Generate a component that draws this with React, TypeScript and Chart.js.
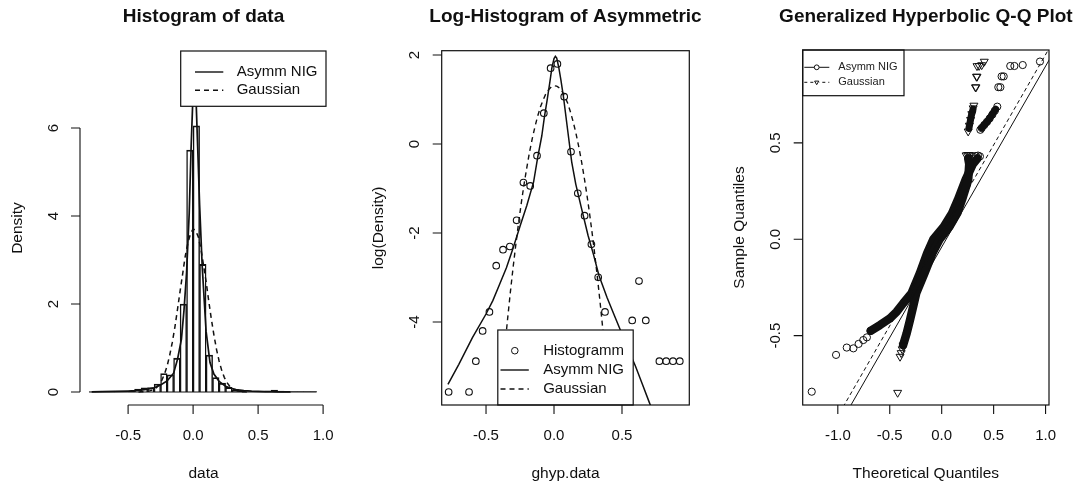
import React, { useEffect, useRef } from "react";
import { Chart, registerables } from "chart.js";

Chart.register(...registerables);

const FONT = '"Liberation Sans", Arial, Helvetica, sans-serif';
const INK = "#101010";
const W = 1081;
const H = 483;
const TICK = 9;

// ---------- Histogram of data: bins of width 0.05 ----------
const binWidth = 0.05;
const binMids = [
  -0.775, -0.725, -0.675, -0.625, -0.575, -0.525, -0.475, -0.425, -0.375,
  -0.325, -0.275, -0.225, -0.175, -0.125, -0.075, -0.025, 0.025, 0.075,
  0.125, 0.175, 0.225, 0.275, 0.325, 0.375, 0.425, 0.475, 0.525, 0.575,
  0.625, 0.675, 0.725, 0.775, 0.825, 0.875, 0.925,
];
const binDensity = [
  0.0038, 0, 0, 0.0038, 0.0076, 0.015, 0.023, 0.065, 0.093,
  0.1, 0.18, 0.42, 0.39, 0.77, 2.0, 5.5, 6.05, 2.9,
  0.84, 0.33, 0.2, 0.105, 0.05, 0.023, 0, 0, 0, 0.019,
  0.046, 0.019, 0, 0.0076, 0.0076, 0.0076, 0.0076,
];

// ---------- fitted densities, stored as log(Density) ----------
const nigX = [
  -0.78, -0.7, -0.6, -0.5, -0.45, -0.4, -0.35, -0.3, -0.25, -0.2, -0.15, -0.12,
  -0.09, -0.07, -0.05, -0.03, -0.015, 0.0, 0.01, 0.02, 0.035, 0.05, 0.07, 0.1,
  0.13, 0.16, 0.2, 0.25, 0.29, 0.33, 0.39, 0.45, 0.5, 0.55, 0.6, 0.65, 0.7, 0.75,
];
const nigLogDensity = [
  -5.4, -4.95, -4.35, -3.82, -3.52, -3.15, -2.78, -2.33, -1.85, -1.38, -0.85, -0.3,
  0.18, 0.62, 1.0, 1.4, 1.72, 1.92, 1.97, 1.93, 1.72, 1.45, 1.05, 0.32,
  -0.4, -0.9, -1.42, -2.05, -2.48, -2.95, -3.45, -3.9, -4.27, -4.64, -5.0, -5.4, -5.8, -6.2,
];
const gaussX = [
  -0.42, -0.4, -0.38, -0.36, -0.34, -0.32, -0.3, -0.28, -0.26, -0.24, -0.22,
  -0.2, -0.18, -0.16, -0.14, -0.12, -0.1, -0.08, -0.06, -0.04, -0.02, 0.0,
  0.02, 0.04, 0.06, 0.08, 0.1, 0.12, 0.14, 0.16, 0.18, 0.2, 0.22,
  0.24, 0.26, 0.28, 0.3, 0.32, 0.34, 0.36, 0.38, 0.4, 0.42, 0.44,
];
const gaussLogDensity = [
  -6.58, -5.85, -5.16, -4.51, -3.89, -3.3, -2.75, -2.24, -1.76, -1.31, -0.9,
  -0.53, -0.18, 0.12, 0.39, 0.63, 0.83, 0.99, 1.13, 1.22, 1.28, 1.31,
  1.3, 1.26, 1.18, 1.06, 0.92, 0.73, 0.51, 0.26, -0.03, -0.35, -0.71,
  -1.1, -1.53, -1.99, -2.49, -3.02, -3.59, -4.19, -4.83, -5.5, -6.21, -6.95,
];

// ---------- Q-Q plot: [theoretical, sample] ----------
type Pt = [number, number];
const qqNigPoints: Pt[] = [
  [-1.251, -0.791], [-1.017, -0.6], [-0.914, -0.562], [-0.85, -0.566],
  [-0.8, -0.543], [-0.755, -0.523], [-0.72, -0.509], [-0.684, -0.475],
  [0.33, 0.432], [0.35, 0.434], [0.368, 0.43],
  [0.372, 0.568], [0.385, 0.577], [0.41, 0.593], [0.436, 0.609], [0.462, 0.627],
  [0.488, 0.647], [0.512, 0.667], [0.535, 0.688],
  [0.545, 0.789], [0.565, 0.789], [0.577, 0.845], [0.597, 0.845],
  [0.66, 0.899], [0.7, 0.899], [0.78, 0.904], [0.946, 0.922],
];
const qqNigBody: Pt[] = [
  [-0.684, -0.475], [-0.594, -0.445], [-0.497, -0.41], [-0.433, -0.376],
  [-0.37, -0.332], [-0.29, -0.28], [-0.21, -0.176], [-0.14, -0.073],
  [-0.08, 0.0], [0.02, 0.065], [0.1, 0.135], [0.155, 0.204], [0.23, 0.308],
  [0.3, 0.39], [0.345, 0.42],
];
const qqNigUpper: Pt[] = [[0.385, 0.578], [0.45, 0.618], [0.52, 0.675]];
const qqGaussPoints: Pt[] = [
  [-0.424, -0.796], [-0.401, -0.609], [-0.39, -0.59], [-0.38, -0.57], [-0.372, -0.55],
  [0.235, 0.436], [0.25, 0.438], [0.265, 0.438], [0.28, 0.436],
  [0.255, 0.56], [0.266, 0.59], [0.278, 0.62], [0.29, 0.65], [0.303, 0.68], [0.31, 0.694],
  [0.325, 0.789], [0.33, 0.789], [0.335, 0.844], [0.34, 0.844],
  [0.34, 0.899], [0.36, 0.9], [0.385, 0.904], [0.41, 0.922],
];
const qqGaussBody: Pt[] = [
  [-0.372, -0.55], [-0.337, -0.488], [-0.305, -0.419], [-0.275, -0.35],
  [-0.245, -0.28], [-0.165, -0.176], [-0.09, -0.073], [-0.02, 0.0],
  [0.075, 0.065], [0.15, 0.135], [0.195, 0.204], [0.255, 0.308],
  [0.265, 0.39], [0.255, 0.42],
];
const qqGaussUpper: Pt[] = [[0.262, 0.575], [0.285, 0.64], [0.302, 0.675]];
const qqNigLine: Pt[] = [[-0.885, -0.871], [1.05, 0.945]];
const qqGaussLine: Pt[] = [[-0.95, -0.871], [1.05, 1.005]];

// ---------- axis ticks ----------
const histXTicks = [-0.5, 0, 0.5, 1.0];
const histXLabels = ["-0.5", "0.0", "0.5", "1.0"];
const histYTicks = [0, 2, 4, 6];
const histYLabels = ["0", "2", "4", "6"];
const logXTicks = [-0.5, 0, 0.5];
const logXLabels = ["-0.5", "0.0", "0.5"];
const logYTicks = [-4, -2, 0, 2];
const logYLabels = ["-4", "-2", "0", "2"];
const qqXTicks = [-1, -0.5, 0, 0.5, 1];
const qqXLabels = ["-1.0", "-0.5", "0.0", "0.5", "1.0"];
const qqYTicks = [-0.5, 0, 0.5];
const qqYLabels = ["-0.5", "0.0", "0.5"];

type LegendItem = { label: string; line?: "solid" | "dashed"; marker?: "circle" | "triangle" };
type LegendSpec = {
  anchor: "topright" | "bottom" | "topleft";
  width: number;
  height: number;
  rows: number[];
  lineFrom: number;
  lineTo: number;
  markerAt: number;
  textAt: number;
  fontSize: number;
  markerRadius: number;
  dash: number[];
  lineWidth: number;
  textColor: string;
  items: LegendItem[];
};
type PanelSpec = {
  title: string;
  xTitle: string;
  yTitle: string;
  xTicks: number[];
  xLabels: string[];
  yTicks: number[];
  yLabels: string[];
  box: boolean;
  legend: LegendSpec;
};

function drawMarker(ctx: CanvasRenderingContext2D, kind: string, x: number, y: number, r: number) {
  ctx.beginPath();
  if (kind === "circle") {
    ctx.arc(x, y, r, 0, Math.PI * 2);
  } else {
    ctx.moveTo(x - r * 0.866, y - r / 2);
    ctx.lineTo(x + r * 0.866, y - r / 2);
    ctx.lineTo(x, y + r);
    ctx.closePath();
  }
  ctx.stroke();
}

function drawLegend(ctx: CanvasRenderingContext2D, a: any, L: LegendSpec) {
  let x0: number;
  let y0: number;
  if (L.anchor === "topright") {
    x0 = a.right - 1 - L.width;
    y0 = a.top;
  } else if (L.anchor === "topleft") {
    x0 = a.left;
    y0 = a.top;
  } else {
    x0 = (a.left + a.right) / 2 - L.width / 2;
    y0 = a.bottom - L.height;
  }
  ctx.save();
  ctx.fillStyle = "#ffffff";
  ctx.fillRect(x0, y0, L.width, L.height);
  ctx.strokeStyle = INK;
  ctx.lineWidth = 1.2;
  ctx.strokeRect(x0, y0, L.width, L.height);
  ctx.font = `${L.fontSize}px ${FONT}`;
  ctx.textBaseline = "middle";
  ctx.textAlign = "left";
  L.items.forEach((it, i) => {
    const y = y0 + L.rows[i];
    ctx.strokeStyle = INK;
    ctx.lineWidth = L.lineWidth;
    if (it.line) {
      ctx.setLineDash(it.line === "dashed" ? L.dash : []);
      ctx.beginPath();
      ctx.moveTo(x0 + L.lineFrom, y);
      ctx.lineTo(x0 + L.lineTo, y);
      ctx.stroke();
      ctx.setLineDash([]);
    }
    if (it.marker) {
      if (it.line) {
        ctx.fillStyle = "#ffffff";
        ctx.beginPath();
        ctx.arc(x0 + L.markerAt, y, L.markerRadius, 0, Math.PI * 2);
        ctx.fill();
      }
      ctx.lineWidth = 1;
      drawMarker(ctx, it.marker, x0 + L.markerAt, y, L.markerRadius);
    }
    ctx.fillStyle = L.textColor;
    ctx.fillText(it.label, x0 + L.textAt, y);
  });
  ctx.restore();
}

function makePanelPlugin(spec: PanelSpec) {
  return {
    id: "rPanel",
    afterDatasetsDraw(chart: any) {
      drawLegend(chart.ctx, chart.chartArea, spec.legend);
    },
    afterDraw(chart: any) {
      const ctx: CanvasRenderingContext2D = chart.ctx;
      const a = chart.chartArea;
      const xs = chart.scales.x;
      const ys = chart.scales.y;
      ctx.save();
      ctx.strokeStyle = INK;
      ctx.fillStyle = INK;
      if (spec.box) {
        ctx.lineWidth = 1.2;
        ctx.strokeRect(a.left, a.top, a.right - a.left, a.bottom - a.top);
      }
      ctx.lineWidth = 1.1;
      const xp = spec.xTicks.map((v) => xs.getPixelForValue(v));
      const yp = spec.yTicks.map((v) => ys.getPixelForValue(v));
      ctx.beginPath();
      if (!spec.box) {
        ctx.moveTo(xp[0], a.bottom);
        ctx.lineTo(xp[xp.length - 1], a.bottom);
        ctx.moveTo(a.left, yp[0]);
        ctx.lineTo(a.left, yp[yp.length - 1]);
      }
      xp.forEach((p) => {
        ctx.moveTo(p, a.bottom);
        ctx.lineTo(p, a.bottom + TICK);
      });
      yp.forEach((p) => {
        ctx.moveTo(a.left, p);
        ctx.lineTo(a.left - TICK, p);
      });
      ctx.stroke();

      ctx.font = `15px ${FONT}`;
      ctx.textAlign = "center";
      ctx.textBaseline = "alphabetic";
      xp.forEach((p, i) => ctx.fillText(spec.xLabels[i], p, a.bottom + 35));
      yp.forEach((p, i) => {
        ctx.save();
        ctx.translate(a.left - 22.5, p);
        ctx.rotate(-Math.PI / 2);
        ctx.fillText(spec.yLabels[i], 0, 0);
        ctx.restore();
      });

      const cx = (a.left + a.right) / 2;
      ctx.font = `15.5px ${FONT}`;
      ctx.fillText(spec.xTitle, cx, a.bottom + 72.5);
      ctx.save();
      ctx.translate(a.left - 58.5, (a.top + a.bottom) / 2);
      ctx.rotate(-Math.PI / 2);
      ctx.fillText(spec.yTitle, 0, 0);
      ctx.restore();

      ctx.font = `bold 19px ${FONT}`;
      ctx.fillText(spec.title, cx, 22);
      ctx.restore();
    },
  };
}

function baseOptions(padding: any, x: [number, number], y: [number, number]) {
  return {
    responsive: false,
    animation: false,
    events: [],
    layout: { padding },
    scales: {
      x: { type: "linear", display: false, min: x[0], max: x[1], offset: false },
      y: { type: "linear", display: false, min: y[0], max: y[1] },
    },
    plugins: { legend: { display: false }, tooltip: { enabled: false }, title: { display: false } },
  };
}

const toXY = (pts: Pt[]) => pts.map(([x, y]) => ({ x, y }));

function histogramConfig(): any {
  const first = binMids[0] - binWidth / 2;
  const last = binMids[binMids.length - 1] + binWidth / 2;
  const spec: PanelSpec = {
    title: "Histogram of data",
    xTitle: "data",
    yTitle: "Density",
    xTicks: histXTicks,
    xLabels: histXLabels,
    yTicks: histYTicks,
    yLabels: histYLabels,
    box: false,
    legend: {
      anchor: "topright", width: 145.3, height: 55.3, rows: [21, 39.3],
      lineFrom: 14.3, lineTo: 42.6, markerAt: 28, textAt: 56, fontSize: 15,
      markerRadius: 3, dash: [5, 4], lineWidth: 1.4, textColor: INK,
      items: [
        { label: "Asymm NIG", line: "solid" },
        { label: "Gaussian", line: "dashed" },
      ],
    },
  };
  return {
    type: "scatter",
    data: {
      datasets: [
        {
          type: "line",
          data: nigX.map((x, i) => ({ x, y: Math.exp(nigLogDensity[i]) })),
          borderColor: INK, borderWidth: 1.7, pointRadius: 0, order: 1,
        },
        {
          type: "line",
          data: gaussX.map((x, i) => ({ x, y: Math.exp(gaussLogDensity[i]) })),
          borderColor: INK, borderWidth: 1.5, borderDash: [5, 4], pointRadius: 0, order: 1,
        },
        {
          type: "line",
          data: [{ x: first, y: 0 }, { x: last, y: 0 }],
          borderColor: INK, borderWidth: 1.1, pointRadius: 0, order: 2,
        },
        {
          type: "bar",
          data: binMids.map((x, i) => ({ x, y: binDensity[i] })),
          backgroundColor: "rgba(0,0,0,0)",
          borderColor: INK,
          borderWidth: { top: 1.2, left: 0.8, right: 0.8, bottom: 0 },
          borderSkipped: false,
          barPercentage: 1,
          categoryPercentage: 1,
          order: 3,
        },
      ],
    },
    options: baseOptions({ left: 80, right: 33, top: 51, bottom: 78 }, [-0.87, 1.03], [-0.2955, 7.75]),
    plugins: [makePanelPlugin(spec)],
  };
}

function logHistConfig(): any {
  const histPts = binMids
    .map((x, i) => ({ x, d: binDensity[i] }))
    .filter((p) => p.d > 0)
    .map((p) => ({ x: p.x, y: Math.log(p.d) }));
  const spec: PanelSpec = {
    title: "Log-Histogram of Asymmetric",
    xTitle: "ghyp.data",
    yTitle: "log(Density)",
    xTicks: logXTicks,
    xLabels: logXLabels,
    yTicks: logYTicks,
    yLabels: logYLabels,
    box: true,
    legend: {
      anchor: "bottom", width: 135.4, height: 75, rows: [20.7, 40, 59],
      lineFrom: 2.7, lineTo: 31, markerAt: 17, textAt: 45.4, fontSize: 15,
      markerRadius: 3.3, dash: [5, 4], lineWidth: 1.4, textColor: INK,
      items: [
        { label: "Histogramm", marker: "circle" },
        { label: "Asymm NIG", line: "solid" },
        { label: "Gaussian", line: "dashed" },
      ],
    },
  };
  return {
    type: "scatter",
    data: {
      datasets: [
        {
          type: "line",
          data: nigX.map((x, i) => ({ x, y: nigLogDensity[i] })),
          borderColor: INK, borderWidth: 1.5, pointRadius: 0, order: 1, clip: 0,
        },
        {
          type: "line",
          data: gaussX.map((x, i) => ({ x, y: gaussLogDensity[i] })),
          borderColor: INK, borderWidth: 1.4, borderDash: [5, 4], pointRadius: 0, order: 1, clip: 0,
        },
        {
          type: "scatter",
          data: histPts,
          pointStyle: "circle", pointRadius: 3.3, pointBorderWidth: 1.1,
          pointBorderColor: INK, pointBackgroundColor: "rgba(0,0,0,0)", order: 2, clip: 0,
        },
      ],
    },
    options: baseOptions({ left: 81.7, right: 30.7, top: 50.7, bottom: 78 }, [-0.826, 0.995], [-5.865, 2.097]),
    plugins: [makePanelPlugin(spec)],
  };
}

function qqConfig(): any {
  const spec: PanelSpec = {
    title: "Generalized Hyperbolic Q-Q Plot",
    xTitle: "Theoretical Quantiles",
    yTitle: "Sample Quantiles",
    xTicks: qqXTicks,
    xLabels: qqXLabels,
    yTicks: qqYTicks,
    yLabels: qqYLabels,
    box: true,
    legend: {
      anchor: "topleft", width: 101.3, height: 45.7, rows: [17.3, 32.3],
      lineFrom: 1.6, lineTo: 26.6, markerAt: 14, textAt: 35.6, fontSize: 11,
      markerRadius: 2.4, dash: [3, 3], lineWidth: 1, textColor: "#222",
      items: [
        { label: "Asymm NIG", line: "solid", marker: "circle" },
        { label: "Gaussian", line: "dashed", marker: "triangle" },
      ],
    },
  };
  const band = {
    type: "line", borderColor: INK, pointRadius: 0,
    borderCapStyle: "round", borderJoinStyle: "round", clip: 0,
  };
  return {
    type: "scatter",
    data: {
      datasets: [
        { type: "line", data: toXY(qqNigLine), borderColor: INK, borderWidth: 1, pointRadius: 0, order: 0, clip: 0 },
        { type: "line", data: toXY(qqGaussLine), borderColor: INK, borderWidth: 1, borderDash: [4, 3], pointRadius: 0, order: 0, clip: 0 },
        {
          type: "scatter", data: toXY(qqGaussPoints), pointStyle: "triangle", rotation: 180,
          pointRadius: 4.6, pointBorderWidth: 1, pointBorderColor: INK,
          pointBackgroundColor: "rgba(0,0,0,0)", order: 1, clip: 0,
        },
        { ...band, data: toXY(qqGaussBody), borderWidth: 8.5, order: 2 },
        { ...band, data: toXY(qqGaussUpper), borderWidth: 7, order: 2 },
        {
          type: "scatter", data: toXY(qqNigPoints), pointStyle: "circle",
          pointRadius: 3.6, pointBorderWidth: 1, pointBorderColor: INK,
          pointBackgroundColor: "rgba(0,0,0,0)", order: 3, clip: 0,
        },
        { ...band, data: toXY(qqNigBody), borderWidth: 8.5, order: 4 },
        { ...band, data: toXY(qqNigUpper), borderWidth: 7, order: 4 },
      ],
    },
    options: baseOptions({ left: 82.7, right: 32, top: 50, bottom: 78 }, [-1.338, 1.033], [-0.86, 0.982]),
    plugins: [makePanelPlugin(spec)],
  };
}

function ChartCanvas({ left, width, make }: { left: number; width: number; make: () => any }) {
  const ref = useRef<HTMLCanvasElement | null>(null);
  useEffect(() => {
    if (!ref.current) return;
    const chart = new Chart(ref.current, make());
    return () => chart.destroy();
  }, [make]);
  return (
    <canvas
      ref={ref}
      width={width}
      height={H}
      style={{ position: "absolute", left, top: 0, display: "block" }}
    />
  );
}

export default function App() {
  return (
    <div
      style={{
        position: "fixed", left: 0, top: 0, width: W, height: H,
        background: "#ffffff", overflow: "hidden",
      }}
    >
      <ChartCanvas left={0} width={360} make={histogramConfig} />
      <ChartCanvas left={360} width={360} make={logHistConfig} />
      <ChartCanvas left={720} width={361} make={qqConfig} />
    </div>
  );
}
